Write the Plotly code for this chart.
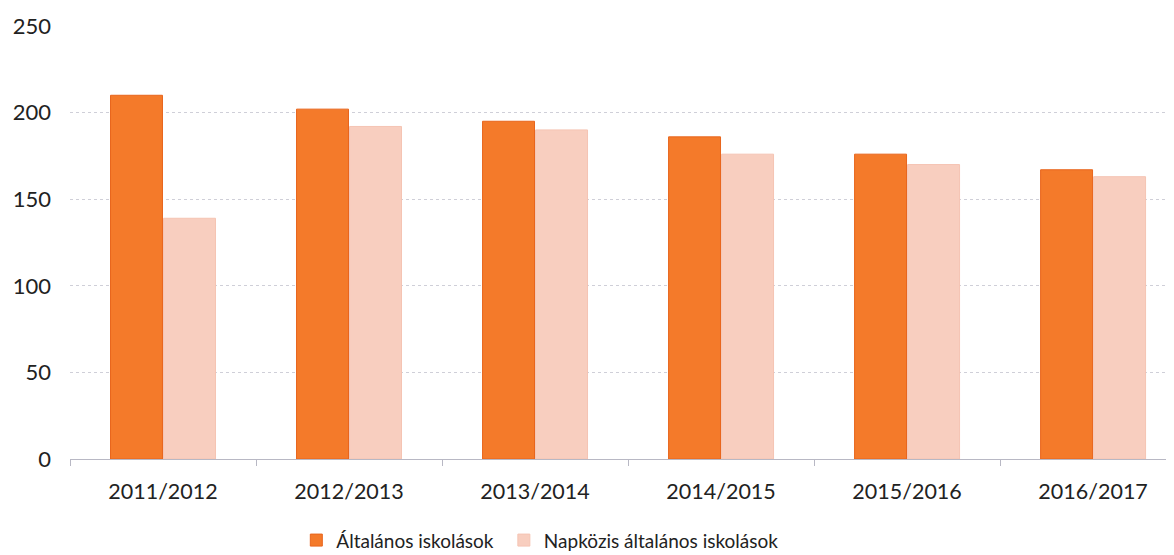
import plotly.graph_objects as go

years = ["2011/2012", "2012/2013", "2013/2014", "2014/2015", "2015/2016", "2016/2017"]
altalanos = [210, 202, 195, 186, 176, 167]
napkozis = [139, 192, 190, 176, 170, 163]
y_ticks = [0, 50, 100, 150, 200, 250]

FONT = "Lato, 'Open Sans', sans-serif"

fig = go.Figure()
fig.add_trace(go.Bar(
    x=years, y=altalanos, name="Általános iskolások", legend="legend",
    marker=dict(color="#F47A2A", line=dict(color="#E8651C", width=1)),
))
fig.add_trace(go.Bar(
    x=years, y=napkozis, name="Napközis általános iskolások", legend="legend2",
    marker=dict(color="#F8CEBF", line=dict(color="#F5C4B3", width=1)),
))

legend_style = dict(
    orientation="h", yref="container", y=0.027, yanchor="middle", xanchor="left",
    font=dict(size=19, color="#222222"), itemwidth=30, bgcolor="rgba(0,0,0,0)",
)

# the page body has an 8px default margin, so the figure is a bit smaller than the window
fig.update_layout(
    width=1166, height=547,
    margin=dict(l=62, r=0, t=18, b=96),
    paper_bgcolor="white", plot_bgcolor="white",
    barmode="group", bargap=0.43, bargroupgap=0.02,
    font=dict(family=FONT, size=20, color="#222222"),
    showlegend=True,
    legend=dict(x=0.205, **legend_style),
    legend2=dict(x=0.393, **legend_style),
    xaxis=dict(
        range=[-0.5, 5.435], showgrid=False, showline=True, linecolor="#B8B8C4",
        ticks="outside", tickson="boundaries", ticklen=6, tickcolor="#B8B8C4",
        ticklabelstandoff=13, tickfont=dict(size=21.5),
    ),
    yaxis=dict(
        range=[0, 250], tickvals=y_ticks, showgrid=True, gridcolor="#CFCFD8",
        griddash="dot", zeroline=False, ticklabelstandoff=18, tickfont=dict(size=22),
    ),
)

fig.write_html("out.html")
